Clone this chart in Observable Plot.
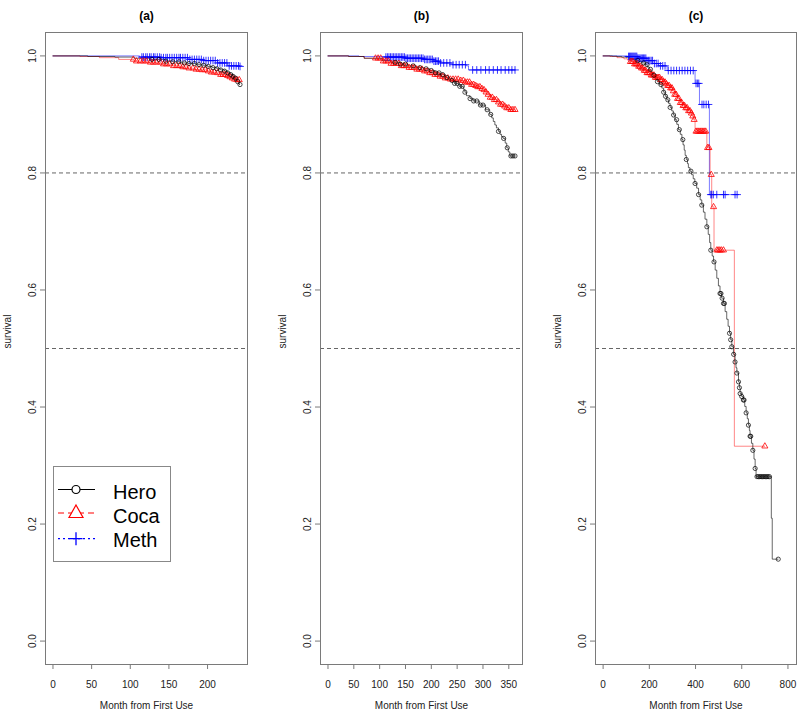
<!DOCTYPE html>
<html><head><meta charset="utf-8">
<script src="https://cdn.jsdelivr.net/npm/d3@7"></script>
<script src="https://cdn.jsdelivr.net/npm/@observablehq/plot@0.6"></script>
<style>
body{margin:0;background:#fff;font-family:"Liberation Sans",Arial,sans-serif;}
#wrap{position:relative;width:800px;height:717px;overflow:hidden;}
.panel{position:absolute;top:0;}
#legend{position:absolute;left:0;top:0;}
</style></head><body><div id="wrap"></div>
<script>
// ---------- data (time in months, survival probability) ----------
const seriesNames = ["Hero", "Coca", "Meth"];
const panelTitles = ["(a)", "(b)", "(c)"];
const xTicksA = [0, 50, 100, 150, 200];
const xTicksB = [0, 50, 100, 150, 200, 250, 300, 350];
const xTicksC = [0, 200, 400, 600, 800];
const yTicks = [0, 0.2, 0.4, 0.6, 0.8, 1.0];
const refLines = [0.8, 0.5];

// panel (a)
const aHeroSteps = [[0,1],[45,0.999],[80,0.998],[105,0.996],[125,0.994],[145,0.991],[155,0.990],[165,0.988],[175,0.987],[185,0.985],[193,0.984],[200,0.982],[206,0.980],[212,0.978],[217,0.976],[222,0.974],[226,0.971],[230,0.968],[233,0.965],[235,0.962],[237,0.959],[238,0.956],[240,0.953],[241,0.951],[242,0.951]];
const aHeroCens = [128,137,146,155,163,170,176,183,189,195,201,207,212,217,222,226,230,233,236,239,242];
const aCocaSteps = [[0,1],[35,0.999],[60,0.997],[85,0.994],[105,0.991],[122,0.989],[140,0.986],[155,0.983],[165,0.981],[174,0.979],[182,0.977],[190,0.976],[200,0.974],[205,0.972],[210,0.971],[217,0.968],[225,0.966],[229,0.964],[232,0.962],[235,0.960],[238,0.959],[242,0.958]];
const aCocaCens = [104,108,113,117,121,126,130,134,139,143,147,151,156,160,164,168,172,176,181,185,189,193,197,201,205,209,213,217,220,223,226,229,232,235,238,241];
const aMethSteps = [[0,1],[112,0.998],[140,0.997],[175,0.994],[195,0.992],[213,0.988],[226,0.983],[242,0.982]];
const aMethCens = [115,117,120,122,125,127,130,132,135,138,140,143,146,148,151,154,157,160,163,165,168,171,174,177,180,183,186,189,192,195,198,201,204,207,210,213,216,219,222,225,228,231,234,237,240,242];

// panel (b)
const bHeroSteps = [[0,1],[40,0.999],[70,0.996],[105,0.992],[122,0.989],[140,0.986],[155,0.983],[171,0.980],[185,0.978],[197,0.975],[207,0.971],[217,0.968],[227,0.963],[236,0.958],[245,0.953],[254,0.948],[262,0.943],[265,0.938],[268,0.932],[275,0.927],[281,0.923],[293,0.916],[305,0.908],[313,0.900],[317,0.894],[320,0.888],[323,0.882],[326,0.877],[330,0.871],[333,0.866],[336,0.862],[339,0.859],[343,0.851],[346,0.843],[349,0.836],[352,0.829],[362,0.829]];
const bHeroCens = [130,140,150,165,178,190,200,208,215,222,230,240,245,250,255,260,265,275,282,288,295,300,308,315,330,340,347,354,358,362];
const bCocaSteps = [[0,1],[40,0.999],[70,0.996],[105,0.991],[122,0.987],[139,0.983],[155,0.980],[171,0.977],[184,0.974],[197,0.971],[207,0.968],[217,0.965],[227,0.962],[236,0.960],[255,0.958],[265,0.955],[275,0.951],[283,0.949],[290,0.947],[296,0.944],[300,0.942],[304,0.938],[307,0.934],[314,0.929],[320,0.925],[327,0.921],[333,0.917],[340,0.914],[346,0.911],[352,0.908],[362,0.908]];
const bCocaCens = [92,97,102,107,112,117,122,127,132,137,142,147,152,157,162,167,172,177,182,187,192,197,202,207,212,217,222,227,232,237,242,247,252,257,262,266,270,274,278,282,286,290,294,298,302,306,310,314,318,322,326,330,334,338,342,346,350,354,358,362];
const bMethSteps = [[0,1],[60,0.999],[110,0.998],[150,0.996],[185,0.994],[205,0.991],[216,0.988],[240,0.985],[268,0.983],[272,0.976],[362,0.976]];
const bMethCens = [112,115,118,121,124,127,130,133,136,139,142,145,148,151,154,157,160,163,166,169,172,175,178,181,184,187,190,193,196,199,202,205,208,211,214,218,224,230,236,242,248,254,260,266,280,288,296,305,312,320,328,335,343,350,356,362];

// panel (c)
const cHeroSteps = [[0,1],[40,0.9995],[60,0.999],[80,0.998],[100,0.997],[115,0.996],[130,0.994],[142,0.992],[155,0.990],[168,0.988],[182,0.985],[191,0.981],[200,0.977],[208,0.972],[216,0.967],[225,0.962],[235,0.956],[244,0.951],[254,0.945],[262,0.938],[269,0.931],[276,0.925],[283,0.919],[290,0.912],[297,0.906],[304,0.899],[311,0.891],[319,0.883],[326,0.874],[334,0.866],[341,0.857],[346,0.848],[351,0.839],[355,0.830],[360,0.823],[365,0.816],[369,0.809],[376,0.803],[383,0.797],[390,0.790],[397,0.782],[405,0.774],[413,0.763],[420,0.754],[427,0.745],[434,0.733],[441,0.721],[449,0.708],[455,0.695],[461,0.681],[466,0.668],[472,0.658],[478,0.648],[485,0.634],[492,0.620],[499,0.607],[506,0.594],[513,0.586],[521,0.577],[528,0.563],[535,0.550],[541,0.538],[547,0.526],[552,0.515],[557,0.503],[564,0.490],[571,0.477],[575,0.467],[579,0.458],[586,0.443],[590,0.433],[593,0.423],[600,0.418],[607,0.412],[613,0.401],[619,0.390],[624,0.380],[629,0.369],[633,0.360],[636,0.350],[642,0.338],[648,0.326],[653,0.311],[658,0.295],[662,0.281],[728,0.210],[732,0.140],[758,0.140]];
const cHeroCens = [150,175,190,205,220,235,250,262,270,280,290,305,318,330,345,360,380,398,413,427,449,466,480,506,510,515,521,525,547,552,557,565,571,579,586,590,593,600,607,610,619,629,636,639,648,658,666,672,678,684,690,696,702,708,714,720,758];
const cCocaSteps = [[0,1],[30,0.999],[60,0.997],[90,0.995],[105,0.993],[117,0.990],[133,0.986],[150,0.982],[162,0.979],[175,0.975],[189,0.971],[203,0.967],[225,0.963],[247,0.959],[258,0.955],[270,0.952],[280,0.949],[290,0.945],[300,0.940],[310,0.934],[322,0.927],[333,0.920],[344,0.915],[355,0.911],[366,0.906],[377,0.902],[385,0.897],[392,0.891],[398,0.871],[449,0.843],[463,0.797],[470,0.742],[480,0.668],[568,0.333],[700,0.333]];
const cCocaCens = [118,124,130,136,142,148,154,160,166,172,178,184,190,196,202,208,214,220,226,232,238,244,250,256,262,268,274,280,286,292,298,304,310,316,322,328,334,340,346,352,358,364,370,376,382,388,394,402,408,414,420,426,432,438,444,452,458,468,478,492,498,505,512,521,700];
const cMethSteps = [[0,1],[105,0.999],[150,0.996],[190,0.992],[216,0.987],[240,0.983],[277,0.975],[398,0.953],[417,0.917],[460,0.763],[580,0.763]];
const cMethCens = [110,114,118,122,126,130,134,138,142,146,150,155,160,165,170,175,180,185,190,196,202,208,214,222,230,238,248,258,268,282,294,306,318,330,342,354,366,378,390,402,408,414,428,436,446,456,466,470,477,492,521,528,571,580];

// ---------- layout / styles ----------
const styles = {
  Hero: {stroke: "#000", lineOpacity: 0.75, symbol: "circle", r: 2.1, sw: 0.7},
  Coca: {stroke: "#ff0000", lineOpacity: 0.6, symbol: "triangle2", r: 2.9, sw: 0.8},
  Meth: {stroke: "#0000ff", lineOpacity: 0.65, symbol: "plus", r: 2.6, sw: 0.8}
};
const panels = [
  {title: panelTitles[0], left: 0, width: 275, mr: 28, xDomain: [-9.68, 251.68], xTicks: xTicksA,
   data: {Hero: [aHeroSteps, aHeroCens], Coca: [aCocaSteps, aCocaCens], Meth: [aMethSteps, aMethCens]}},
  {title: panelTitles[1], left: 275, width: 275, mr: 28, xDomain: [-14.5, 376.5], xTicks: xTicksB,
   data: {Hero: [bHeroSteps, bHeroCens], Coca: [bCocaSteps, bCocaCens], Meth: [bMethSteps, bMethCens]}},
  {title: panelTitles[2], left: 550, width: 250, mr: 4, xDomain: [-33, 837], xTicks: xTicksC,
   data: {Hero: [cHeroSteps, cHeroCens], Coca: [cCocaSteps, cCocaCens], Meth: [cMethSteps, cMethCens]}}
];

function survAt(steps, t) {
  let s = steps[0][1];
  for (const [tt, ss] of steps) { if (tt <= t) s = ss; else break; }
  return s;
}

const wrap = document.getElementById("wrap");
const axisColor = "#7a7a7a";
const textColor = "#222";

for (const p of panels) {
  const marks = [
    Plot.ruleY(refLines, {stroke: "#555", strokeWidth: 0.9, strokeDasharray: "4,3"})
  ];
  for (const name of ["Meth", "Coca", "Hero"]) {
    const [steps] = p.data[name];
    const st = styles[name];
    const lineData = steps.map(([t, s]) => ({t, s}));
    marks.push(Plot.line(lineData, {x: "t", y: "s", curve: "step-after", stroke: st.stroke, strokeOpacity: st.lineOpacity, strokeWidth: 0.8}));
  }
  for (const name of ["Meth", "Coca", "Hero"]) {
    const [steps, cens] = p.data[name];
    const st = styles[name];
    const dotData = cens.map(t => ({t, s: survAt(steps, t)}));
    marks.push(Plot.dot(dotData, {x: "t", y: "s", symbol: st.symbol, r: st.r, stroke: st.stroke, fill: "none", strokeWidth: st.sw}));
  }
  marks.push(
    Plot.frame({stroke: axisColor}),
    Plot.axisX(p.xTicks, {tickSize: 5, tickPadding: 11, stroke: axisColor, fill: textColor, label: null, fontSize: 10}),
    Plot.axisY(yTicks, {tickSize: 5, tickFormat: () => "", stroke: axisColor, label: null}),
    Plot.text(yTicks, {y: d => d, text: d => d.toFixed(1), frameAnchor: "left", dx: -10, rotate: -90, textAnchor: "middle", lineAnchor: "bottom", fontSize: 10, fill: textColor}),
    Plot.text([p.title], {text: d => d, frameAnchor: "top", dy: -21, fontWeight: "bold", fontSize: 12, fill: "#000"}),
    Plot.text(["Month from First Use"], {text: d => d, frameAnchor: "bottom", dy: 44, fontSize: 10, fill: textColor}),
    Plot.text(["survival"], {text: d => d, frameAnchor: "left", dx: -38, rotate: -90, fontSize: 10, fill: textColor})
  );
  const chart = Plot.plot({
    width: p.width, height: 717,
    marginLeft: 45, marginRight: p.mr, marginTop: 32, marginBottom: 53,
    x: {domain: p.xDomain},
    y: {domain: [-0.04, 1.04]},
    style: {fontFamily: "'Liberation Sans', Arial, sans-serif", fontSize: "10px", background: "transparent"},
    marks
  });
  const div = document.createElement("div");
  div.className = "panel";
  div.style.left = p.left + "px";
  div.appendChild(chart);
  wrap.appendChild(div);
}

// ---------- legend (panel a) ----------
const legendRows = [
  {name: seriesNames[0], color: "#000", dash: null, y: 489.5, ty: 499},
  {name: seriesNames[1], color: "#ff0000", dash: "6,4", y: 513, ty: 522.5},
  {name: seriesNames[2], color: "#0000ff", dash: "2,3", y: 538.7, ty: 546.5}
];
const svg = d3.select(wrap).append("svg").attr("id", "legend").attr("width", 800).attr("height", 717);
svg.append("rect").attr("x", 53.5).attr("y", 466.5).attr("width", 117).attr("height", 95)
  .attr("fill", "#fff").attr("stroke", "#888").attr("stroke-width", 1);
legendRows.forEach((r, i) => {
  svg.append("line").attr("x1", 58).attr("x2", 95).attr("y1", r.y).attr("y2", r.y)
    .attr("stroke", r.color).attr("stroke-width", 1.2).attr("stroke-dasharray", r.dash);
  if (i === 0) {
    svg.append("circle").attr("cx", 76).attr("cy", r.y).attr("r", 4).attr("fill", "#fff").attr("stroke", r.color).attr("stroke-width", 1.2);
  } else if (i === 1) {
    svg.append("path").attr("d", `M76,${r.y - 8}L83,${r.y + 4.5}L69,${r.y + 4.5}Z`).attr("fill", "#fff").attr("stroke", r.color).attr("stroke-width", 1.2);
  } else {
    svg.append("path").attr("d", `M69.5,${r.y}H82.5M76,${r.y - 6.5}V${r.y + 6.5}`).attr("stroke", r.color).attr("stroke-width", 1.3);
  }
  svg.append("text").attr("x", 113).attr("y", r.ty).text(r.name)
    .attr("font-size", 20).attr("font-family", "'Liberation Sans', Arial, sans-serif").attr("fill", "#000");
});
</script></body></html>
